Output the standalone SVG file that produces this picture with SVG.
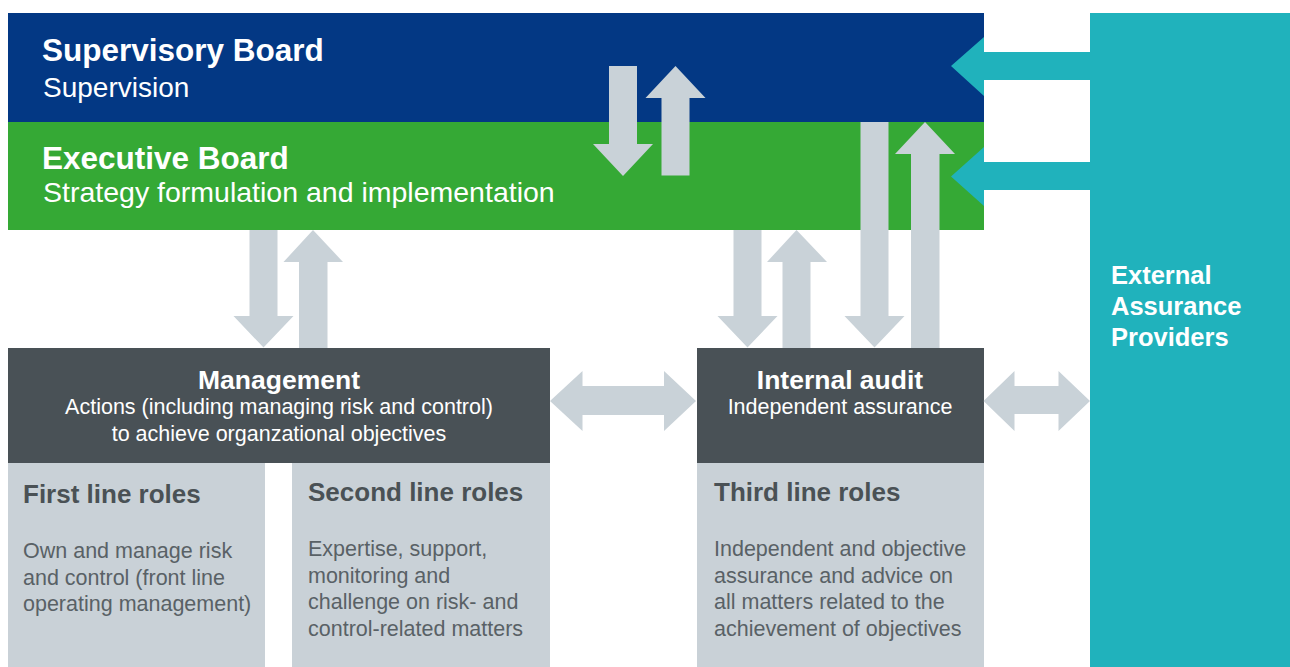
<svg xmlns="http://www.w3.org/2000/svg" width="1290" height="667" viewBox="0 0 1290 667">
<style>
.t{font-family:"Liberation Sans",Arial,Helvetica,sans-serif}
.w{fill:#ffffff}
.b{font-weight:bold}
.title{font-size:31.5px;font-weight:bold;fill:#ffffff}
.sub{font-size:28px;fill:#ffffff}
.hd{font-size:26.5px;font-weight:bold;fill:#ffffff}
.sm{font-size:21.5px;fill:#ffffff}
.rt{font-size:26px;font-weight:bold;fill:#4a5155}
.rb{font-size:21.5px;fill:#596166}
.ga{fill:#c9d2d8}
.ta{fill:#20b2bc}
</style>
<rect width="1290" height="667" fill="#ffffff"/>
<g id="external">
<rect x="1090" y="13" width="200" height="654" fill="#20b2bc"/>
<text class="t hd" style="font-size:25.5px"><tspan x="1111" y="283.5">External</tspan><tspan x="1111" y="315">Assurance</tspan><tspan x="1111" y="346">Providers</tspan></text>
</g>
<g id="supervisory">
<rect x="8" y="13" width="976" height="109" fill="#033884"/>
<text class="t title" x="42" y="61">Supervisory Board</text>
<text class="t sub" x="43" y="96.5">Supervision</text>
</g>
<g id="executive">
<rect x="8" y="122" width="976" height="108" fill="#35a935"/>
<text class="t title" x="42" y="168.5">Executive Board</text>
<text class="t sub" x="43" y="201.5" style="font-size:28.5px">Strategy formulation and implementation</text>
</g>
<g id="management">
<rect x="8" y="348" width="542" height="115" fill="#495156"/>
<text class="t hd" x="279" y="388.5" text-anchor="middle">Management</text>
<text class="t sm" text-anchor="middle"><tspan x="279" y="413.5">Actions (including managing risk and control)</tspan><tspan x="279" y="441">to achieve organzational objectives</tspan></text>
</g>
<g id="internal-audit">
<rect x="697" y="348" width="287" height="115" fill="#495156"/>
<text class="t hd" x="840" y="388.5" text-anchor="middle">Internal audit</text>
<text class="t sm" x="840" y="414" text-anchor="middle">Independent assurance</text>
</g>
<g id="first-line">
<rect x="8" y="463" width="257" height="204" fill="#c9d1d7"/>
<text class="t rt" x="23" y="503">First line roles</text>
<text class="t rb"><tspan x="23" y="558">Own and manage risk</tspan><tspan x="23" y="584.5">and control (front line</tspan><tspan x="23" y="611">operating management)</tspan></text>
</g>
<g id="second-line">
<rect x="292" y="463" width="258" height="204" fill="#c9d1d7"/>
<text class="t rt" x="308" y="501">Second line roles</text>
<text class="t rb"><tspan x="308" y="556">Expertise, support,</tspan><tspan x="308" y="582.5">monitoring and</tspan><tspan x="308" y="609">challenge on risk- and</tspan><tspan x="308" y="635.5">control-related matters</tspan></text>
</g>
<g id="third-line">
<rect x="697" y="463" width="287" height="204" fill="#c9d1d7"/>
<text class="t rt" x="714" y="501">Third line roles</text>
<text class="t rb"><tspan x="714" y="556">Independent and objective</tspan><tspan x="714" y="582.5">assurance and advice on</tspan><tspan x="714" y="609">all matters related to the</tspan><tspan x="714" y="635.5">achievement of objectives</tspan></text>
</g>
<g id="connectors">
<polygon class="ga" points="609,66 637,66 637,144 653,144 623,176 593,144 609,144"/>
<polygon class="ga" points="661.5,175.5 689.5,175.5 689.5,98 705.5,98 675.5,66 645.5,98 661.5,98"/>
<polygon class="ga" points="249.5,230 277.5,230 277.5,316 293.5,316 263.5,347.5 233.5,316 249.5,316"/>
<polygon class="ga" points="299,348 327.5,348 327.5,262 343,262 313,230 283.5,262 299,262"/>
<polygon class="ga" points="733.5,230 761.5,230 761.5,316 777.5,316 747.5,347.5 717.5,316 733.5,316"/>
<polygon class="ga" points="782.5,348 810.5,348 810.5,262 827,262 796.5,230 767,262 782.5,262"/>
<polygon class="ga" points="860.5,122 888.5,122 888.5,316 904.5,316 874.5,347.5 844.5,316 860.5,316"/>
<polygon class="ga" points="911,348 939.5,348 939.5,154 955,154 925,122 895,154 911,154"/>
<polygon class="ga" points="550,401 582.5,371 582.5,386 664,386 664,371 696,401 664,431 664,415 582.5,415 582.5,431"/>
<polygon class="ga" points="983.5,401 1014.5,371 1014.5,386 1058.5,386 1058.5,371 1090,401 1058.5,431 1058.5,414 1014.5,414 1014.5,431"/>
<polygon class="ta" points="951,66 984,37 984,52 1090,52 1090,80 984,80 984,96"/>
<polygon class="ta" points="951,176.5 984,147 984,162 1090,162 1090,190 984,190 984,206"/>
</g>
</svg>
